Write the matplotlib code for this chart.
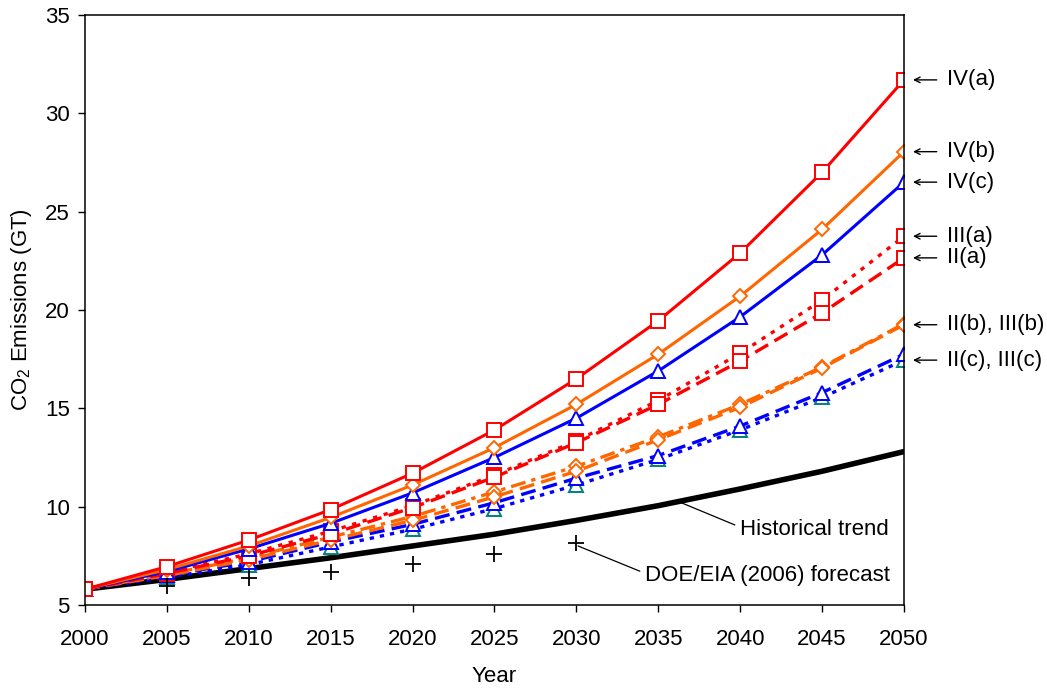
import matplotlib.pyplot as plt

plt.rcParams['font.family'] = ['Liberation Sans', 'DejaVu Sans']
plt.rcParams['mathtext.fontset'] = 'custom'
plt.rcParams['mathtext.rm'] = 'Liberation Sans'

years = [2000, 2005, 2010, 2015, 2020, 2025, 2030, 2035, 2040, 2045, 2050]

iv_a = [5.8, 6.95, 8.3, 9.85, 11.7, 13.9, 16.5, 19.45, 22.9, 27.0, 31.7]
iv_b = [5.8, 6.8, 8.0, 9.45, 11.1, 13.0, 15.2, 17.75, 20.7, 24.1, 28.05]
iv_c = [5.8, 6.7, 7.85, 9.15, 10.7, 12.5, 14.5, 16.9, 19.65, 22.8, 26.5]
iii_a = [5.8, 6.65, 7.6, 8.75, 10.05, 11.6, 13.35, 15.4, 17.8, 20.5, 23.75]
ii_a = [5.8, 6.6, 7.5, 8.6, 9.95, 11.5, 13.25, 15.2, 17.4, 19.85, 22.65]
iii_b = [5.8, 6.55, 7.4, 8.45, 9.5, 10.75, 12.05, 13.55, 15.2, 17.1, 19.3]
ii_b = [5.8, 6.5, 7.3, 8.3, 9.3, 10.5, 11.8, 13.4, 15.05, 17.05, 19.25]
ii_c = [5.8, 6.5, 7.2, 8.2, 9.1, 10.2, 11.45, 12.6, 14.1, 15.8, 17.75]
iii_c = [5.8, 6.4, 7.05, 7.95, 8.85, 9.9, 11.1, 12.4, 13.9, 15.55, 17.45]
hist = [5.8, 6.3, 6.85, 7.4, 8.0, 8.6, 9.3, 10.05, 10.9, 11.8, 12.8]

doe_years = [2005, 2010, 2015, 2020, 2025, 2030]
doe = [5.95, 6.35, 6.7, 7.1, 7.6, 8.15]

end_labels = ['IV(a)', 'IV(b)', 'IV(c)', 'III(a)', 'II(a)', 'II(b), III(b)', 'II(c), III(c)']
end_values = [iv_a[-1], iv_b[-1], iv_c[-1], iii_a[-1], ii_a[-1], ii_b[-1], iii_c[-1]]

red, orange, blue, teal = '#ff0000', '#ff6600', '#0000ff', '#008080'

fig = plt.figure(figsize=(10.47, 6.91), dpi=100)
ax = fig.add_axes([0.0812, 0.1245, 0.7822, 0.8538])

mk = dict(markerfacecolor='white', markeredgewidth=1.4)
ax.plot(years, hist, color='black', lw=4, zorder=2)
ax.plot(years, iii_c, color=blue, lw=2.4, ls=(0, (1.3, 1.8)), marker='^', ms=9.5, markeredgecolor=teal, **mk)
ax.plot(years, ii_c, color=blue, lw=2.4, ls=(0, (4.5, 2.2)), marker='^', ms=9.5, markeredgecolor=blue, **mk)
ax.plot(years, iii_b, color=orange, lw=2.4, ls=(0, (4.5, 1.8, 1.3, 1.8)), marker='D', ms=7, markeredgecolor=orange, **mk)
ax.plot(years, ii_b, color=orange, lw=2.4, ls=(0, (4.5, 2.2)), marker='D', ms=7, markeredgecolor=orange, **mk)
ax.plot(years, iii_a, color=red, lw=2.4, ls=(0, (1.3, 2.0)), marker='s', ms=10, markeredgecolor=red, **mk)
ax.plot(years, ii_a, color=red, lw=2.4, ls=(0, (4.5, 2.2)), marker='s', ms=10, markeredgecolor=red, **mk)
ax.plot(years, iv_c, color=blue, lw=2.2, marker='^', ms=9.5, markeredgecolor=blue, **mk)
ax.plot(years, iv_b, color=orange, lw=2.2, marker='D', ms=7, markeredgecolor=orange, **mk)
ax.plot(years, iv_a, color=red, lw=2.2, marker='s', ms=10, markeredgecolor=red, **mk)
ax.plot(doe_years, doe, ls='none', marker='+', ms=12, mew=1.3, color='black')

ax.set_xlim(2000, 2050)
ax.set_ylim(5, 35)
ax.set_xticks(years)
ax.set_yticks(range(5, 36, 5))
ax.tick_params(axis='x', labelsize=16, length=5, width=1, direction='out', pad=12)
ax.tick_params(axis='y', labelsize=16, length=5, width=1, direction='out', pad=6)
for s in ax.spines.values():
    s.set_linewidth(1.1)
ax.set_xlabel('Year', fontsize=16, labelpad=12)
ax.set_ylabel('CO$_2$ Emissions (GT)', fontsize=16, labelpad=8)

for lab, v in zip(end_labels, end_values):
    ax.annotate('', xy=(2050.55, v), xytext=(2052.0, v),
                arrowprops=dict(arrowstyle='->', color='black', lw=1, shrinkA=0, shrinkB=0),
                annotation_clip=False)
    ax.text(2052.6, v, lab, fontsize=16, va='center', ha='left', clip_on=False)

ax.annotate('Historical trend', xy=(2036.4, 10.2), xytext=(2040.0, 8.85),
            fontsize=16, va='center', ha='left',
            arrowprops=dict(arrowstyle='-', color='black', lw=0.9, shrinkA=2, shrinkB=0,
                            relpos=(0, 0.6)))
ax.annotate('DOE/EIA (2006) forecast', xy=(2030.1, 8.0), xytext=(2034.2, 6.5),
            fontsize=16, va='center', ha='left',
            arrowprops=dict(arrowstyle='-', color='black', lw=0.9, shrinkA=2, shrinkB=0,
                            relpos=(0, 0.6)))

fig.savefig('out.png', dpi=100)
